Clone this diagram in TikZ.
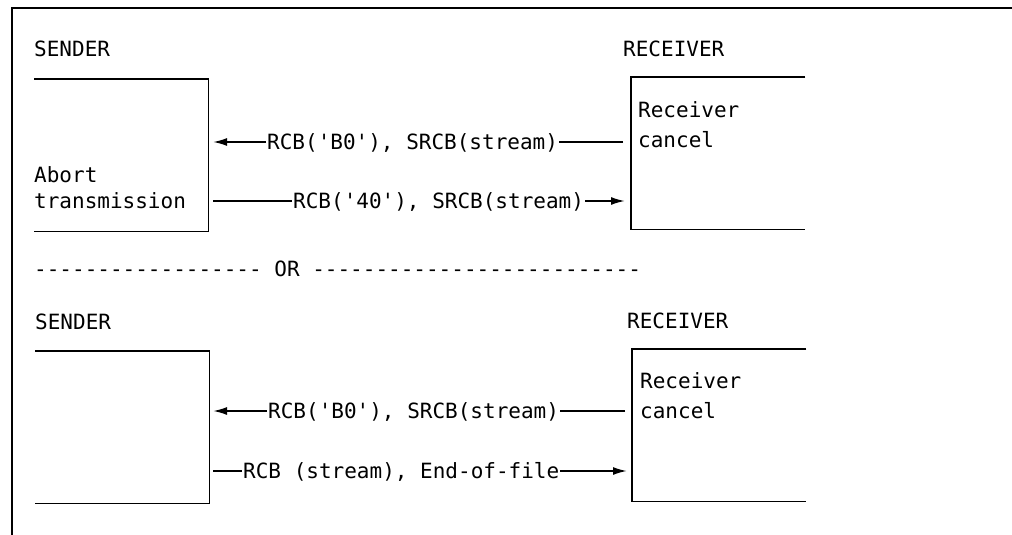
\documentclass[tikz,border=0pt]{standalone}
\usepackage{fontspec}
\setmonofont{DejaVu Sans Mono}
\usetikzlibrary{arrows.meta}
\begin{document}
\begin{tikzpicture}[x=1pt,y=-1pt,
  every node/.style={inner sep=0pt, font=\ttfamily\fontsize{21}{26}\selectfont},
  heading/.style={anchor=base west},
  msg/.style={anchor=west, text height=15.3pt, text depth=0pt, inner xsep=1pt},
  wire/.style={line width=1.8pt},
  flow/.style={wire, -{Latex[length=14pt,width=8pt]}},
  party/.style={rectangle, minimum width=174pt, minimum height=152pt, anchor=north west},
]
\useasboundingbox (0,0) rectangle (1012,535);

% open frame: top and left rules only
\draw[wire] (1012,8) -- (12,8) -- (12,535);

% ---------------- first exchange ----------------
\node[heading] (snd1) at (34,57) {SENDER};
\node[heading] (rcv1) at (623,57) {RECEIVER};

\node[party] (s1) at (34,79) {};
\draw[wire] (s1.north west) -- (s1.north east) -- (s1.south east) -- (s1.south west);
\node[party] (r1) at (631,77) {};
\draw[wire] (r1.north east) -- (r1.north west) -- (r1.south west) -- (r1.south east);

\node[heading] (abort) at (34,182)
  {\begin{tabular}[t]{@{}l@{}}Abort\\transmission\end{tabular}};
\node[heading] (rc1) at (638,117)
  {\fontsize{21}{30}\selectfont\begin{tabular}[t]{@{}l@{}}Receiver\\cancel\end{tabular}};

\coordinate (a1r) at (623,142);
\coordinate (a1l) at (213,142);
\node[msg] (m1) at (266,142) {RCB('B0'), SRCB(stream)};
\draw[wire] (a1r) -- (m1.east);
\draw[flow] (m1.west) -- (a1l);

\coordinate (a2l) at (213,201);
\coordinate (a2r) at (625,201);
\node[msg] (m2) at (292,201) {RCB('40'), SRCB(stream)};
\draw[wire] (a2l) -- (m2.west);
\draw[flow] (m2.east) -- (a2r);

% ---------------- separator ----------------
\node[heading] (or) at (34,276) {------------------ OR --------------------------};

% ---------------- second exchange ----------------
\node[heading] (snd2) at (35,329) {SENDER};
\node[heading] (rcv2) at (627,328) {RECEIVER};

\node[party] (s2) at (35,351) {};
\draw[wire] (s2.north west) -- (s2.north east) -- (s2.south east) -- (s2.south west);
\node[party] (r2) at (632,349) {};
\draw[wire] (r2.north east) -- (r2.north west) -- (r2.south west) -- (r2.south east);

\node[heading] (rc2) at (640,388)
  {\fontsize{21}{30}\selectfont\begin{tabular}[t]{@{}l@{}}Receiver\\cancel\end{tabular}};

\coordinate (a3r) at (625,411);
\coordinate (a3l) at (213,411);
\node[msg] (m3) at (267,411) {RCB('B0'), SRCB(stream)};
\draw[wire] (a3r) -- (m3.east);
\draw[flow] (m3.west) -- (a3l);

\coordinate (a4l) at (213,471);
\coordinate (a4r) at (627,471);
\node[msg] (m4) at (242,471) {RCB (stream), End-of-file};
\draw[wire] (a4l) -- (m4.west);
\draw[flow] (m4.east) -- (a4r);
\end{tikzpicture}
\end{document}
